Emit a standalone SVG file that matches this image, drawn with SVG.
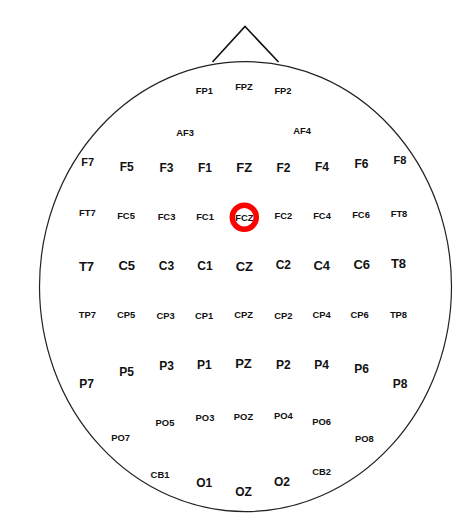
<svg xmlns="http://www.w3.org/2000/svg" width="476" height="520" viewBox="0 0 476 520">
<style>
text{font-family:"Liberation Sans",Arial,sans-serif;font-weight:bold;fill:#111;text-anchor:middle}
.s{font-size:9.4px}
.f11{font-size:11px}
.m{font-size:12px}
.l{font-size:13px}
.head{fill:none;stroke:#222;stroke-width:1.2}
.nose{fill:none;stroke:#111;stroke-width:1.6}
.mark{fill:none;stroke:#f00;stroke-width:5.5}
</style>
<rect width="476" height="520" fill="#fff"/>
<g id="head">
<ellipse class="head" cx="245.5" cy="286.6" rx="206" ry="225"/>
<polyline class="nose" points="212.5,62 245,26.5 278.5,62"/>
</g>
<g id="connectors"></g>
<g id="e-FP1"><text class="s" x="204.3" y="94.3">FP1</text></g>
<g id="e-FPZ"><text class="s" x="244" y="89.8">FPZ</text></g>
<g id="e-FP2"><text class="s" x="283" y="94.3">FP2</text></g>
<g id="e-AF3"><text class="s" x="185" y="135.8">AF3</text></g>
<g id="e-AF4"><text class="s" x="302" y="133.8">AF4</text></g>
<g id="e-F7"><text class="f11" x="87.7" y="165.5">F7</text></g>
<g id="e-F5"><text class="m" x="126.7" y="171">F5</text></g>
<g id="e-F3"><text class="m" x="166.5" y="172.3">F3</text></g>
<g id="e-F1"><text class="m" x="205" y="172.3">F1</text></g>
<g id="e-FZ"><text class="l" x="244.3" y="172.2">FZ</text></g>
<g id="e-F2"><text class="m" x="283.5" y="171.8">F2</text></g>
<g id="e-F4"><text class="m" x="322" y="170.8">F4</text></g>
<g id="e-F6"><text class="m" x="361.5" y="167.8">F6</text></g>
<g id="e-F8"><text class="f11" x="400" y="164">F8</text></g>
<g id="e-FT7"><text class="s" x="87.3" y="215.8">FT7</text></g>
<g id="e-FC5"><text class="s" x="126" y="219.3">FC5</text></g>
<g id="e-FC3"><text class="s" x="166.5" y="219.8">FC3</text></g>
<g id="e-FC1"><text class="s" x="205" y="220.3">FC1</text></g>
<g id="e-FCZ"><text class="s" x="244.3" y="220.8">FCZ</text><circle class="mark" cx="244.3" cy="217.3" r="12"/></g>
<g id="e-FC2"><text class="s" x="283.3" y="219.3">FC2</text></g>
<g id="e-FC4"><text class="s" x="322" y="219.3">FC4</text></g>
<g id="e-FC6"><text class="s" x="361" y="218.3">FC6</text></g>
<g id="e-FT8"><text class="s" x="399" y="217.3">FT8</text></g>
<g id="e-T7"><text class="l" x="86.5" y="271.2">T7</text></g>
<g id="e-C5"><text class="l" x="126.7" y="270.4">C5</text></g>
<g id="e-C3"><text class="m" x="166.5" y="270.3">C3</text></g>
<g id="e-C1"><text class="m" x="205" y="270.3">C1</text></g>
<g id="e-CZ"><text class="l" x="244.3" y="271.4">CZ</text></g>
<g id="e-C2"><text class="m" x="283.3" y="269.3">C2</text></g>
<g id="e-C4"><text class="l" x="321.7" y="269.7">C4</text></g>
<g id="e-C6"><text class="l" x="361.7" y="268.7">C6</text></g>
<g id="e-T8"><text class="l" x="398.5" y="267.7">T8</text></g>
<g id="e-TP7"><text class="s" x="87.3" y="318.3">TP7</text></g>
<g id="e-CP5"><text class="s" x="126" y="318.3">CP5</text></g>
<g id="e-CP3"><text class="s" x="165.5" y="319.3">CP3</text></g>
<g id="e-CP1"><text class="s" x="204" y="318.8">CP1</text></g>
<g id="e-CPZ"><text class="s" x="243.5" y="318.3">CPZ</text></g>
<g id="e-CP2"><text class="s" x="283.3" y="319.3">CP2</text></g>
<g id="e-CP4"><text class="s" x="321.7" y="318.3">CP4</text></g>
<g id="e-CP6"><text class="s" x="359.5" y="318.3">CP6</text></g>
<g id="e-TP8"><text class="s" x="398.5" y="318.3">TP8</text></g>
<g id="e-P7"><text class="m" x="86.5" y="387.6">P7</text></g>
<g id="e-P5"><text class="m" x="126.7" y="375.8">P5</text></g>
<g id="e-P3"><text class="m" x="166.5" y="370.3">P3</text></g>
<g id="e-P1"><text class="m" x="204.3" y="369.3">P1</text></g>
<g id="e-PZ"><text class="l" x="243.5" y="368.2">PZ</text></g>
<g id="e-P2"><text class="m" x="283.3" y="369.3">P2</text></g>
<g id="e-P4"><text class="m" x="321.7" y="369.3">P4</text></g>
<g id="e-P6"><text class="m" x="361.7" y="372.8">P6</text></g>
<g id="e-P8"><text class="m" x="400" y="387.6">P8</text></g>
<g id="e-PO7"><text class="s" x="120.7" y="441">PO7</text></g>
<g id="e-PO5"><text class="s" x="165" y="425.6">PO5</text></g>
<g id="e-PO3"><text class="s" x="205" y="421.3">PO3</text></g>
<g id="e-POZ"><text class="s" x="243.5" y="420.3">POZ</text></g>
<g id="e-PO4"><text class="s" x="283.3" y="419.3">PO4</text></g>
<g id="e-PO6"><text class="s" x="321.7" y="425">PO6</text></g>
<g id="e-PO8"><text class="s" x="364.3" y="441.6">PO8</text></g>
<g id="e-CB1"><text class="s" x="160" y="478.3">CB1</text></g>
<g id="e-O1"><text class="m" x="204.3" y="487.3">O1</text></g>
<g id="e-OZ"><text class="m" x="243.5" y="496">OZ</text></g>
<g id="e-O2"><text class="m" x="282" y="486">O2</text></g>
<g id="e-CB2"><text class="s" x="321.7" y="475.3">CB2</text></g>
</svg>
